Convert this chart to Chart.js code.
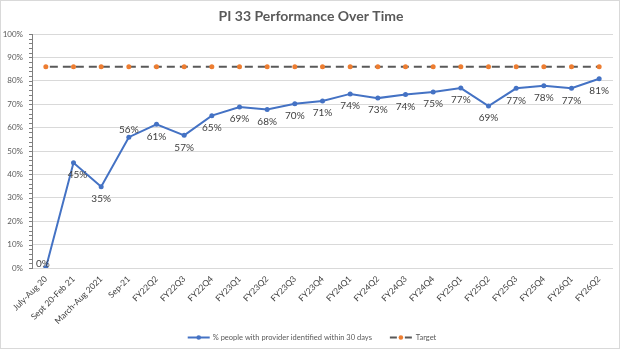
<!DOCTYPE html>
<html>
<head>
<meta charset="utf-8">
<script src="https://cdn.jsdelivr.net/npm/chart.js@4"></script>
<style>
  html, body { margin: 0; padding: 0; background: #ffffff; }
  #wrap { width: 624px; height: 351px; position: relative; }
</style>
</head>
<body>
<div id="wrap"><canvas id="pi-chart" width="624" height="351"></canvas></div>
<script>
const periods = ["July-Aug 20", "Sept 20-Feb 21", "March-Aug 2021", "Sep-21", "FY22Q2", "FY22Q3", "FY22Q4",
    "FY23Q1", "FY23Q2", "FY23Q3", "FY23Q4", "FY24Q1", "FY24Q2", "FY24Q3", "FY24Q4",
    "FY25Q1", "FY25Q2", "FY25Q3", "FY25Q4", "FY26Q1", "FY26Q2"];
const performance = [0, 45.0, 34.7, 55.9, 61.4, 56.7, 65.1, 68.8, 67.7, 70.2, 71.4, 74.4, 72.6, 74.1, 75.2,
    76.9, 69.2, 76.8, 77.9, 76.8, 80.9];
const target = periods.map(() => 86);
const yTicks = [0, 10, 20, 30, 40, 50, 60, 70, 80, 90, 100];

const seriesNames = ["% people with provider identified within 30 days", "Target"];
const labelsAbove = [0, 3]; // indexes whose value label sits above the point

const blue = '#4472C4';
const orange = '#ED7D31';
const darkGray = '#595959';
const font = "Lato, 'Open Sans', sans-serif";

// Draw the % labels, the small y-axis tick marks, the title, the legend and the frame
const extras = {
    id: 'extras',
    afterDatasetsDraw(chart) {
        const ctx = chart.ctx;
        const meta = chart.getDatasetMeta(0);
        const yScale = chart.scales.y;
        const area = chart.chartArea;

        ctx.save();
        // minor ticks on the value axis
        ctx.strokeStyle = '#7f7f7f';
        ctx.lineWidth = 1;
        for (let v = 0; v <= 100; v += 2) {
            const y = Math.round(yScale.getPixelForValue(v)) + 0.5;
            ctx.beginPath();
            ctx.moveTo(area.left - 3, y);
            ctx.lineTo(area.left, y);
            ctx.stroke();
        }

        // value labels
        ctx.font = '10px ' + font;
        ctx.fillStyle = '#404040';
        ctx.textAlign = 'center';
        ctx.textBaseline = 'middle';
        meta.data.forEach((pt, i) => {
            const txt = Math.round(performance[i]) + '%';
            if (i === 0) {
                ctx.fillText(txt, pt.x - 3, pt.y - 4);
            } else if (labelsAbove.includes(i)) {
                ctx.fillText(txt, pt.x, pt.y - 7);
            } else {
                ctx.fillText(txt, pt.x + (i === 1 ? 4 : 0), pt.y + 12);
            }
        });
        ctx.restore();
    },
    afterDraw(chart) {
        const ctx = chart.ctx;
        ctx.save();

        // title
        ctx.font = 'bold 14px ' + font;
        ctx.fillStyle = darkGray;
        ctx.textAlign = 'center';
        ctx.textBaseline = 'middle';
        ctx.fillText('PI 33 Performance Over Time', 311, 16);

        // legend
        ctx.font = '7.5px ' + font;
        ctx.textAlign = 'left';
        const y = 337.5;
        const w1 = ctx.measureText(seriesNames[0]).width;
        const w2 = ctx.measureText(seriesNames[1]).width;
        const total = 22 + 3 + w1 + 18 + 22 + 4 + w2;
        let x = 312 - total / 2;

        ctx.strokeStyle = blue;
        ctx.lineWidth = 2;
        ctx.beginPath(); ctx.moveTo(x, y); ctx.lineTo(x + 22, y); ctx.stroke();
        ctx.fillStyle = blue;
        ctx.beginPath(); ctx.arc(x + 11, y, 2.3, 0, Math.PI * 2); ctx.fill();
        x += 25;
        ctx.fillStyle = darkGray;
        ctx.fillText(seriesNames[0], x, y);
        x += w1 + 18;

        ctx.strokeStyle = darkGray;
        ctx.beginPath(); ctx.moveTo(x, y); ctx.lineTo(x + 7, y); ctx.moveTo(x + 15, y); ctx.lineTo(x + 22, y); ctx.stroke();
        ctx.fillStyle = orange;
        ctx.beginPath(); ctx.arc(x + 11, y, 2.3, 0, Math.PI * 2); ctx.fill();
        x += 26;
        ctx.fillStyle = darkGray;
        ctx.fillText(seriesNames[1], x, y);

        // outer frame
        ctx.strokeStyle = '#d9d9d9';
        ctx.lineWidth = 1;
        ctx.strokeRect(0.5, 0.5, 619, 348);
        ctx.restore();
    }
};

new Chart(document.getElementById('pi-chart').getContext('2d'), {
    type: 'line',
    data: {
        labels: periods,
        datasets: [
            {
                label: seriesNames[0],
                data: performance,
                borderColor: blue,
                backgroundColor: blue,
                borderWidth: 2,
                pointRadius: 2.5,
                pointBorderWidth: 0,
                pointHoverRadius: 2.5,
                tension: 0,
                order: 1
            },
            {
                label: seriesNames[1],
                data: target,
                borderColor: darkGray,
                backgroundColor: orange,
                pointBackgroundColor: orange,
                pointBorderColor: orange,
                borderWidth: 2,
                borderDash: [8, 5],
                borderDashOffset: -4,
                pointRadius: 2.5,
                pointBorderWidth: 0,
                pointHoverRadius: 2.5,
                order: 2
            }
        ]
    },
    options: {
        responsive: false,
        animation: false,
        events: [],
        layout: { padding: { top: 34, right: 11, left: 0, bottom: 0 } },
        plugins: {
            legend: { display: false },
            title: { display: false },
            tooltip: { enabled: false }
        },
        scales: {
            x: {
                offset: true,
                grid: { display: false, drawTicks: false },
                border: { display: false },
                ticks: {
                    autoSkip: false,
                    maxRotation: 45,
                    minRotation: 45,
                    padding: 6,
                    color: '#404040',
                    font: { size: 8.5, family: font }
                },
                afterFit(scale) { scale.height = 83; }
            },
            y: {
                min: 0,
                max: 100,
                afterBuildTicks(scale) { scale.ticks = yTicks.map(v => ({ value: v })); },
                grid: { color: '#d9d9d9', lineWidth: 1, drawTicks: false },
                border: { display: true, color: '#7f7f7f', width: 1 },
                ticks: {
                    padding: 9,
                    color: darkGray,
                    font: { size: 8, family: font },
                    callback: v => v + '%'
                },
                afterFit(scale) { scale.width = 32; }
            }
        }
    },
    plugins: [extras]
});
</script>
</body>
</html>
